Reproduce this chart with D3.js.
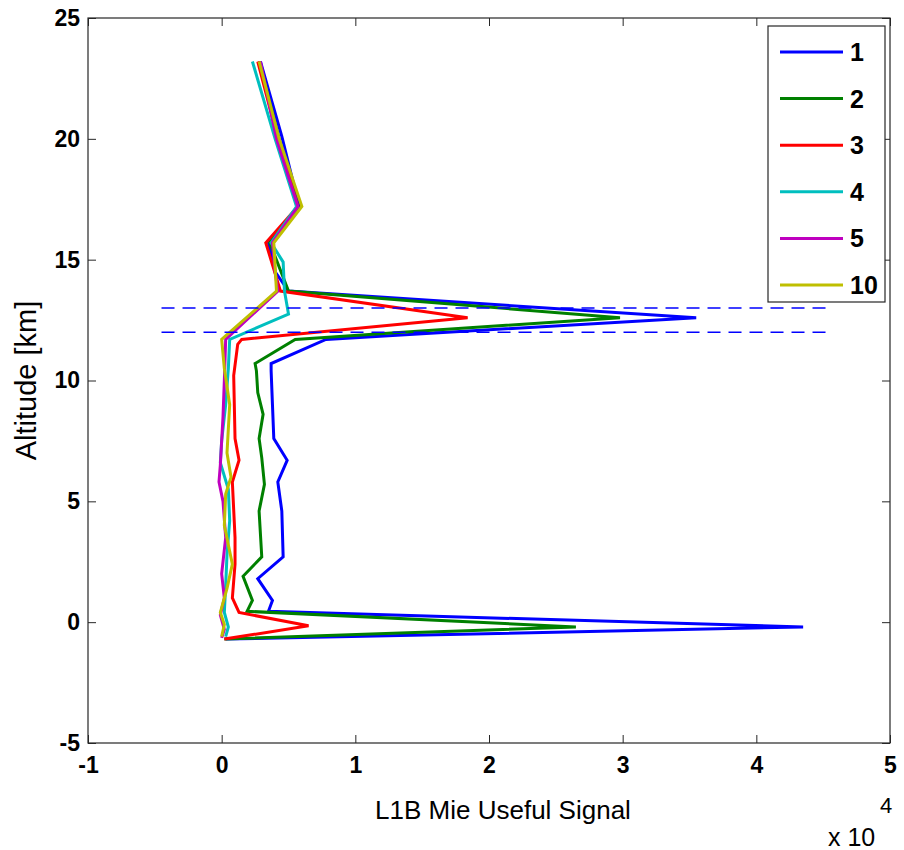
<!DOCTYPE html>
<html>
<head>
<meta charset="utf-8">
<script src="https://cdn.jsdelivr.net/npm/d3@7"></script>
<style>
  html, body { margin: 0; padding: 0; background: #fff; }
  svg { display: block; }
  text { font-family: "Liberation Sans", Arial, sans-serif; fill: #000; }
</style>
</head>
<body>
<svg id="chart" width="904" height="850"></svg>
<script>
// ---------------- data (signal values in counts; axis shows x 10^4) ----------------
const seriesNames = ["1", "2", "3", "4", "5", "10"];
const seriesColors = ["#0000ff", "#008000", "#ff0000", "#00bfbf", "#bf00bf", "#bfbf00"];

const alt1 = [23.2, 20.1, 17.2, 15.7, 14.5, 13.7, 12.6, 11.7, 10.7, 10.4, 9.0, 7.6, 6.7, 5.8, 4.6, 2.7, 1.8, 0.9, 0.45, -0.2, -0.7];
const sig1 = [2900, 4500, 5800, 3500, 4000, 5000, 35500, 7800, 3700, 3700, 3800, 3900, 4900, 4200, 4500, 4600, 2700, 3800, 3500, 43500, 300];

const alt2 = [23.2, 20.0, 17.2, 15.7, 13.7, 12.6, 11.7, 10.7, 10.4, 9.5, 8.6, 7.6, 6.8, 5.7, 4.6, 2.7, 1.9, 0.9, 0.45, -0.2, -0.7];
const sig2 = [2800, 4300, 5700, 3600, 5000, 29800, 5500, 2500, 2600, 2700, 3100, 2800, 3000, 3200, 2800, 3000, 1600, 2300, 1900, 26500, 200];

const alt3 = [23.2, 20.0, 17.2, 15.7, 13.7, 12.6, 11.7, 11.5, 10.2, 7.6, 6.7, 5.8, 3.5, 2.4, 1.0, 0.4, -0.15, -0.7];
const sig3 = [2700, 4200, 5700, 3300, 4400, 18400, 1500, 1200, 900, 1000, 1300, 800, 1000, 1000, 800, 1300, 6500, 200];

const alt4 = [23.2, 20.0, 17.2, 15.7, 14.9, 13.7, 12.75, 11.7, 10.5, 9.0, 7.5, 6.6, 5.5, 4.2, 2.8, 1.5, 0.4, -0.2, -0.6];
const sig4 = [2300, 4000, 5600, 3700, 4600, 4700, 5000, 600, 500, 300, 0, -100, 500, 600, 400, 300, 200, 500, 300];

const alt5 = [23.2, 20.0, 17.2, 15.7, 14.5, 13.7, 11.7, 10.0, 8.5, 6.5, 5.8, 5.0, 3.5, 2.0, 1.0, 0.3, -0.3, -0.65];
const sig5 = [2900, 4100, 5700, 3800, 4000, 4200, 300, 200, 100, -100, -200, 100, 300, 0, 200, -100, 200, 0];

const alt10 = [23.2, 20.0, 17.2, 15.7, 13.7, 11.7, 10.5, 9.0, 7.0, 6.0, 5.3, 4.0, 2.4, 1.4, 0.4, -0.1, -0.6];
const sig10 = [2800, 4300, 6000, 3900, 4100, 0, 200, 600, 400, 700, 300, 200, 800, 400, -100, 200, 0];

const cloudTop = 13, cloudBase = 12;
const cloudLineFrom = -4500, cloudLineTo = 45500;

const xTicks = [-10000, 0, 10000, 20000, 30000, 40000, 50000];
const yTicks = [-5, 0, 5, 10, 15, 20, 25];

const xTitle = "L1B Mie Useful Signal";
const yTitle = "Altitude [km]";

// ---------------- layout ----------------
const svg = d3.select("#chart");
const pL = 88, pR = 890, pT = 18, pB = 743;

const x = d3.scaleLinear().domain([-10000, 50000]).range([pL, pR]);
const y = d3.scaleLinear().domain([-5, 25]).range([pB, pT]);

const allSeries = [
  {alt: alt1, sig: sig1}, {alt: alt2, sig: sig2}, {alt: alt3, sig: sig3},
  {alt: alt4, sig: sig4}, {alt: alt5, sig: sig5}, {alt: alt10, sig: sig10}
];

// data lines
const line = d3.line().x(d => x(d[1])).y(d => y(d[0]));
allSeries.forEach((s, i) => {
  const pts = s.alt.map((a, k) => [a, s.sig[k]]);
  svg.append("path")
    .attr("d", line(pts))
    .attr("fill", "none")
    .attr("stroke", seriesColors[i])
    .attr("stroke-width", 3)
    .attr("stroke-linejoin", "miter");
});

// cloud layer dashed lines
[cloudTop, cloudBase].forEach(a => {
  svg.append("line")
    .attr("x1", x(cloudLineFrom)).attr("x2", x(cloudLineTo))
    .attr("y1", y(a)).attr("y2", y(a))
    .attr("stroke", "#0000ff").attr("stroke-width", 1.5)
    .attr("stroke-dasharray", "13,8");
});

// frame
svg.append("rect")
  .attr("x", pL).attr("y", pT)
  .attr("width", pR - pL).attr("height", pB - pT)
  .attr("fill", "none").attr("stroke", "#262626").attr("stroke-width", 1.2);

// axes with inward ticks
const tickLen = 8;
const fmtX = d => String(d / 10000);
const xAxisB = d3.axisBottom(x).tickValues(xTicks).tickSizeInner(-tickLen).tickSizeOuter(0)
  .tickFormat(fmtX).tickPadding(14);
const gx = svg.append("g").attr("transform", `translate(0,${pB})`).call(xAxisB);
gx.select(".domain").remove();
gx.selectAll("text").attr("font-size", 23).attr("font-weight", "bold")
  .attr("font-family", "Liberation Sans, Arial, sans-serif");
gx.selectAll("line").attr("stroke", "#262626");

const xAxisT = d3.axisTop(x).tickValues(xTicks).tickSizeInner(-tickLen).tickSizeOuter(0).tickFormat("");
const gxt = svg.append("g").attr("transform", `translate(0,${pT})`).call(xAxisT);
gxt.select(".domain").remove();
gxt.selectAll("line").attr("stroke", "#262626");

const yAxisL = d3.axisLeft(y).tickValues(yTicks).tickSizeInner(-tickLen).tickSizeOuter(0)
  .tickFormat(d => String(d)).tickPadding(8);
const gy = svg.append("g").attr("transform", `translate(${pL},0)`).call(yAxisL);
gy.select(".domain").remove();
gy.selectAll("text").attr("font-size", 23).attr("font-weight", "bold")
  .attr("font-family", "Liberation Sans, Arial, sans-serif");
gy.selectAll("line").attr("stroke", "#262626");

const yAxisR = d3.axisRight(y).tickValues(yTicks).tickSizeInner(-tickLen).tickSizeOuter(0).tickFormat("");
const gyr = svg.append("g").attr("transform", `translate(${pR},0)`).call(yAxisR);
gyr.select(".domain").remove();
gyr.selectAll("line").attr("stroke", "#262626");

// axis titles
svg.append("text")
  .attr("x", 503).attr("y", 819)
  .attr("text-anchor", "middle").attr("font-size", 26)
  .text(xTitle);

svg.append("text")
  .attr("transform", `translate(36,${(pT + pB) / 2}) rotate(-90)`)
  .attr("text-anchor", "middle").attr("font-size", 29)
  .text(yTitle);

// exponent label
svg.append("text").attr("x", 828).attr("y", 846).attr("font-size", 25).text("x 10");
svg.append("text").attr("x", 880).attr("y", 813).attr("font-size", 22).text("4");

// legend
const lgX = 768, lgY = 26, lgW = 117, lgH = 276;
svg.append("rect")
  .attr("x", lgX).attr("y", lgY).attr("width", lgW).attr("height", lgH)
  .attr("fill", "#fff").attr("stroke", "#262626").attr("stroke-width", 1.2);
const lg = svg.append("g");
seriesNames.forEach((name, i) => {
  const cy = 52 + i * 46.6;
  lg.append("line").attr("x1", 780).attr("x2", 843).attr("y1", cy).attr("y2", cy)
    .attr("stroke", seriesColors[i]).attr("stroke-width", 3);
  lg.append("text").attr("x", 850).attr("y", cy + 9).attr("font-size", 25).attr("font-weight", "bold")
    .text(name);
});
</script>
</body>
</html>
